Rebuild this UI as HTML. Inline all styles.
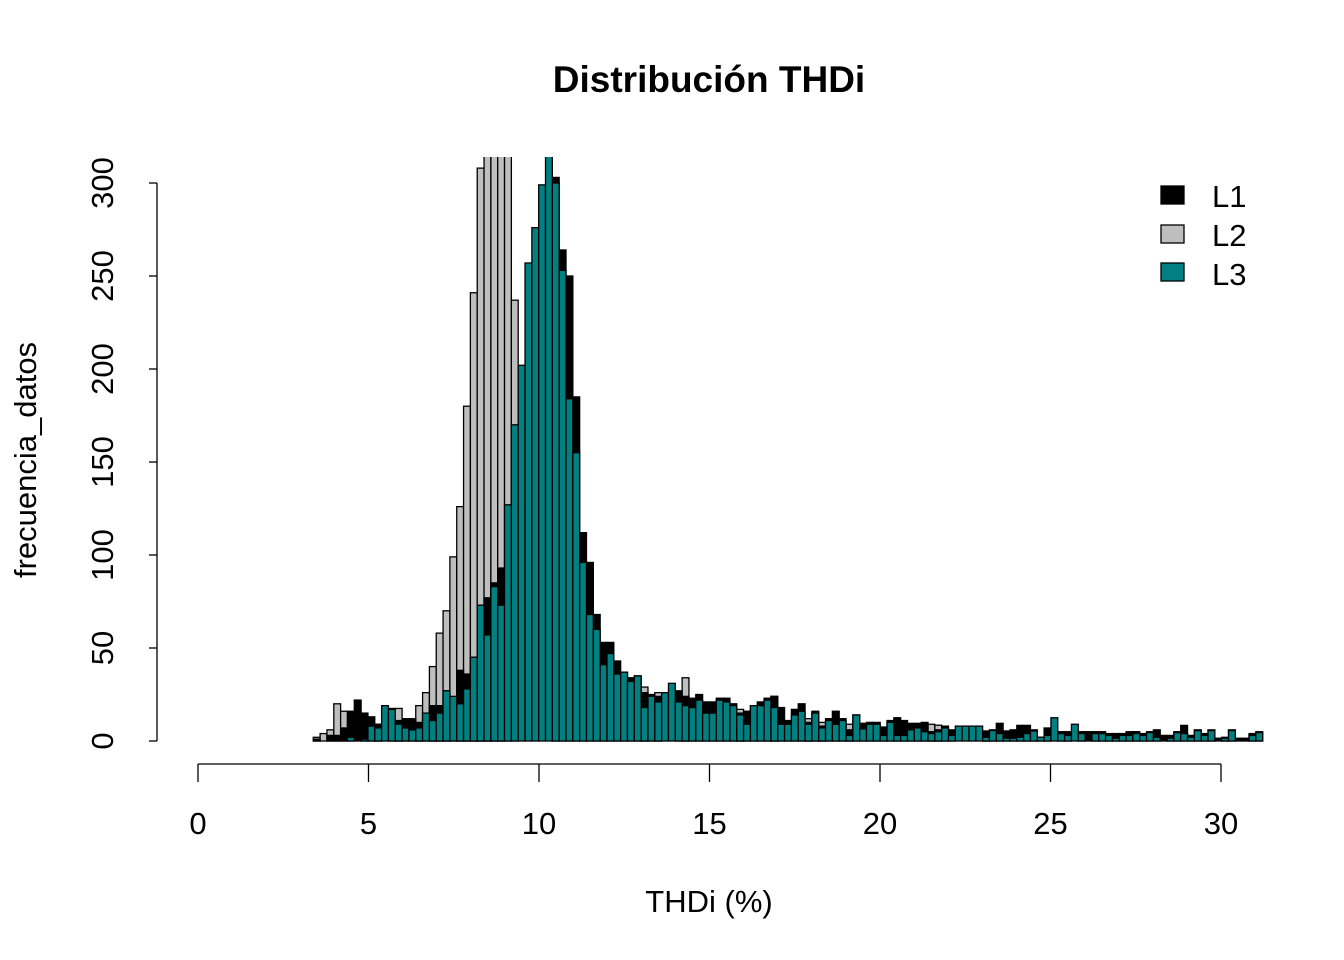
<!DOCTYPE html>
<html><head><meta charset="utf-8"><style>
html,body{margin:0;padding:0;background:#fff;}
svg{display:block;font-family:"Liberation Sans",Arial,sans-serif;}
</style></head><body>
<svg id="s" width="1344" height="960" viewBox="0 0 1344 960" xmlns="http://www.w3.org/2000/svg">
<rect width="1344" height="960" fill="#fff"/>
<defs><clipPath id="c"><rect x="150" y="157" width="1114" height="600"/></clipPath></defs>
<text x="709" y="92" text-anchor="middle" font-size="37" font-weight="bold">Distribución THDi</text>
<g id="bars" clip-path="url(#c)"></g>
<g stroke="#000" stroke-width="1.3" fill="none">
<line x1="157" y1="183" x2="157" y2="741"/>
<line x1="149" y1="741" x2="157" y2="741"/>
<line x1="149" y1="648" x2="157" y2="648"/>
<line x1="149" y1="555" x2="157" y2="555"/>
<line x1="149" y1="462" x2="157" y2="462"/>
<line x1="149" y1="369" x2="157" y2="369"/>
<line x1="149" y1="276" x2="157" y2="276"/>
<line x1="149" y1="183" x2="157" y2="183"/>
<line x1="198" y1="764" x2="1221" y2="764"/>
<line x1="198" y1="764" x2="198" y2="782"/>
<line x1="368.5" y1="764" x2="368.5" y2="782"/>
<line x1="539" y1="764" x2="539" y2="782"/>
<line x1="709.5" y1="764" x2="709.5" y2="782"/>
<line x1="880" y1="764" x2="880" y2="782"/>
<line x1="1050.5" y1="764" x2="1050.5" y2="782"/>
<line x1="1221" y1="764" x2="1221" y2="782"/>
</g>
<g font-size="31" text-anchor="middle">
<text transform="translate(113,741) rotate(-90)">0</text>
<text transform="translate(113,648) rotate(-90)">50</text>
<text transform="translate(113,555) rotate(-90)">100</text>
<text transform="translate(113,462) rotate(-90)">150</text>
<text transform="translate(113,369) rotate(-90)">200</text>
<text transform="translate(113,276) rotate(-90)">250</text>
<text transform="translate(113,183) rotate(-90)">300</text>
<text x="198" y="834">0</text>
<text x="368.5" y="834">5</text>
<text x="539" y="834">10</text>
<text x="709.5" y="834">15</text>
<text x="880" y="834">20</text>
<text x="1050.5" y="834">25</text>
<text x="1221" y="834">30</text>
<text x="709" y="912">THDi (%)</text>
<text transform="translate(36,460) rotate(-90)">frecuencia_datos</text>
</g>
<g stroke="#000" stroke-width="1.3">
<rect x="1161" y="186" width="23" height="18" fill="#000"/>
<rect x="1161" y="225" width="23" height="18" fill="#bebebe"/>
<rect x="1161" y="263" width="23" height="18" fill="#008080"/>
</g>
<g font-size="31">
<text x="1212" y="207">L1</text>
<text x="1212" y="246">L2</text>
<text x="1212" y="285">L3</text>
</g>
</svg>
<script>
var d=[[2,1,0],[4,0,0],[6,3,0],[20,3,0],[16,7,0],[0,16,2],[0,22,0],[0,15,1],[0,13,8],[9,9,7],
[0,0,19],[17.5,0,17],[17.5,11,9],[0,12,7],[0,12,6],[19,10,7],[26,0,15],[40,19,11],[58,19,15],[70,27,27],
[99,0,24],[126,38,20],[180,36,28],[241,45,45],[308,73,73],[400,77,57],[400,85,83],[400,93,73],[400,0,127],[237,0,170],
[0,0,202],[0,0,257],[0,0,276],[0,0,299],[0,0,400],[0,303,300],[0,264,253],[0,250,184],[0,185,155],[0,112,96],
[0,96,68],[0,68,60],[0,53,41],[0,53,47],[0,43,36],[0,37,37],[0,34,32],[0,35,35],[29,26,18],[0,25,24],
[26,24,21],[0,0,26],[0,0,31],[0,27,21],[34,24,19],[0,23,18],[0,25,22],[0,21,15],[0,21,15],[0,23,22],
[0,23,21],[0,20,19],[17,15,14],[0,16,9],[0,19,19],[0,21,19],[0,23,22],[24,24,18],[0,18,9],[0,11,9],
[0,17,14],[0,20,16],[12,10,9],[0,16,15],[10,8,7],[0,12,11],[0,16,9],[0,12,11],[9,6,3],[0,14,14],
[0,9.5,6.5],[0,10,9],[0,10,9],[0,7.5,3],[0,11,10],[0,12.5,3],[0,11,3],[0,9.5,6],[0,9.5,7],[0,10,5],
[9,5,4],[8.5,6,5],[0,8,7],[0,6,3],[0,0,8],[0,0,8],[0,0,8],[0,0,8],[4,5.4,2],[0,6,5.6],
[0,9.5,4],[0,5.4,1.5],[0,6,1.5],[0,8.4,2],[0,8.4,4],[0,6,5.4],[0,2,2],[0,7,3],[0,0,12.5],[0,5,4],
[0,5,3],[0,0,9],[0,5,4],[0,5,0],[0,5,4],[0,5,4],[0,4,3],[0,4,1.5],[0,4,3],[0,5,3],
[0,5,4],[0,4,3],[0,5,4.5],[0,6,2],[0,3,0],[0,3,1.5],[0,5,4.5],[0,8.4,4],[0,3,2],[0,6,5.6],
[0,4,3],[0,6,5.6],[0,1.5,0],[0,2,1.5],[0,6,5.6],[0,1.5,0],[0,1.5,0],[0,4,3],[0,5,4.5]];
var g=document.getElementById('bars'),out='';
var cols=['#bebebe','#000','#008080'];
[0,1,2].forEach(function(k){
 d.forEach(function(r,i){
  var v=r[k]; if(v<=0)return;
  var x=313.3+6.83*i, h=v*1.86, y=741-h;
  out+='<rect x="'+x.toFixed(2)+'" y="'+y.toFixed(2)+'" width="6.83" height="'+h.toFixed(2)+'" fill="'+cols[k]+'" stroke="#000" stroke-width="1.3"/>';
 });
});
g.innerHTML=out;
</script>
</body></html>
